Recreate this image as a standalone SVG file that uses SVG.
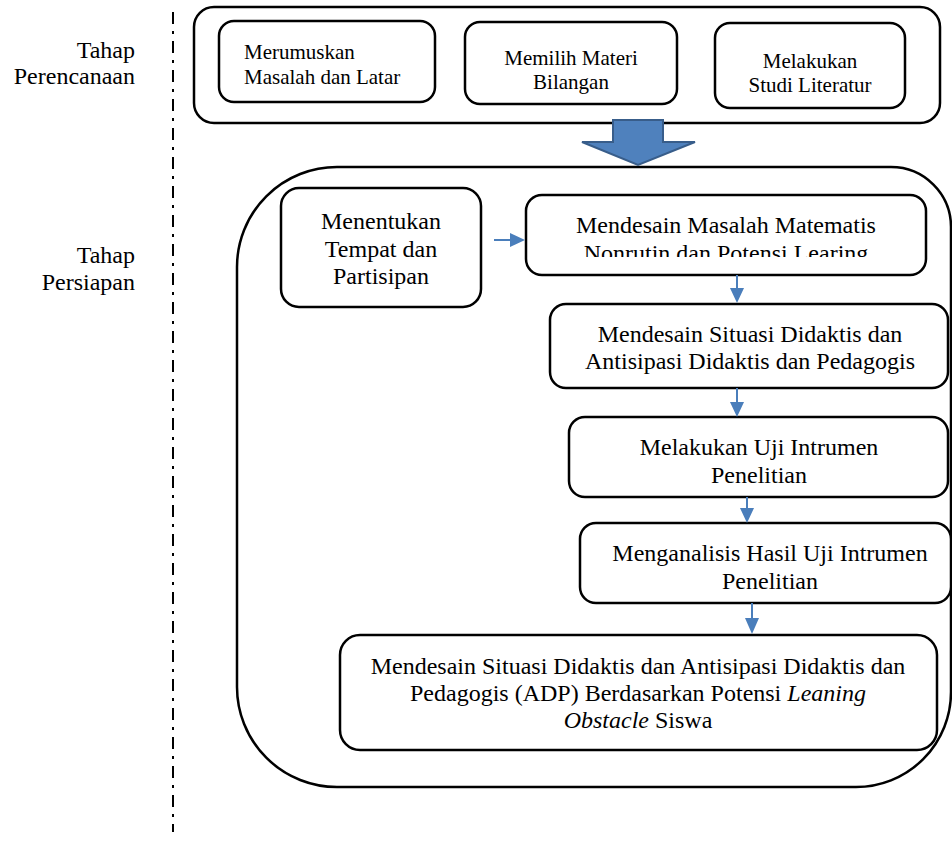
<svg xmlns="http://www.w3.org/2000/svg" width="952" height="845" viewBox="0 0 952 845" font-family="'Liberation Serif', Tinos, 'Times New Roman', 'DejaVu Serif', serif">
<style>
  text { font-family: "Liberation Serif", Tinos, "Times New Roman", "DejaVu Serif", serif; fill: #000; }
  .lbl { font-size: 24px; text-anchor: end; }
  .top { font-size: 21px; }
  .n { font-size: 24px; text-anchor: middle; }
  .box { fill: #fff; stroke: #000; stroke-width: 2.5; }
  .frame { fill: none; stroke: #000; stroke-width: 2.5; }
  .conn { stroke: #4a7ebb; stroke-width: 2; fill: none; }
  .head { fill: #4a7ebb; }
</style>
<defs>
  <clipPath id="clipLearing"><rect x="526" y="195" width="400" height="62"/></clipPath>
</defs>
<rect width="952" height="845" fill="#fff"/>

<g id="separator">
  <line x1="173" y1="12" x2="173" y2="832" stroke="#000" stroke-width="2" stroke-dasharray="12 7 3 7"/>
</g>

<g id="label-perencanaan">
  <text class="lbl" x="135" y="58">Tahap</text>
  <text class="lbl" x="135" y="84">Perencanaan</text>
</g>
<g id="label-persiapan">
  <text class="lbl" x="135" y="263">Tahap</text>
  <text class="lbl" x="135" y="290">Persiapan</text>
</g>

<g id="stage-perencanaan">
  <rect class="frame" x="194" y="7" width="746" height="116" rx="20"/>
</g>

<g id="merumuskan">
  <rect class="box" x="219" y="21" width="216" height="81" rx="15"/>
  <text class="top" x="244" y="59">Merumuskan</text>
  <text class="top" x="244" y="84">Masalah dan Latar</text>
</g>
<g id="memilih">
  <rect class="box" x="465" y="22" width="212" height="82" rx="15"/>
  <text class="top" x="571" y="65" text-anchor="middle">Memilih Materi</text>
  <text class="top" x="571" y="89" text-anchor="middle">Bilangan</text>
</g>
<g id="studi">
  <rect class="box" x="715" y="23" width="190" height="85" rx="15"/>
  <text class="top" x="810" y="68" text-anchor="middle">Melakukan</text>
  <text class="top" x="810" y="92" text-anchor="middle">Studi Literatur</text>
</g>

<g id="stage-persiapan">
  <path class="frame" d="M337,167 H891 A60,60 0 0 1 951,227 V692 A95,95 0 0 1 856,787 H337 A100,100 0 0 1 237,687 V267 A100,100 0 0 1 337,167 Z"/>
</g>

<g id="big-arrow">
  <polygon points="613,120 663,120 663,142 695,142 638,165 582,142 613,142" fill="#4f81bd" stroke="#385d8a" stroke-width="2" stroke-linejoin="miter"/>
</g>

<g id="menentukan">
  <rect class="box" x="281" y="188" width="200" height="119" rx="18"/>
  <text class="n" x="381" y="229">Menentukan</text>
  <text class="n" x="381" y="257">Tempat dan</text>
  <text class="n" x="381" y="284">Partisipan</text>
</g>

<g id="mendesain-masalah">
  <rect class="box" x="526" y="195" width="400" height="80" rx="16"/>
  <text class="n" x="726" y="233">Mendesain Masalah Matematis</text>
  <text class="n" x="726" y="261" clip-path="url(#clipLearing)">Nonrutin dan Potensi Learing</text>
</g>

<g id="mendesain-situasi">
  <rect class="box" x="550" y="304" width="398" height="84" rx="16"/>
  <text class="n" x="750" y="342">Mendesain Situasi Didaktis dan</text>
  <text class="n" x="750" y="369">Antisipasi Didaktis dan Pedagogis</text>
</g>

<g id="uji-instrumen">
  <rect class="box" x="569" y="417" width="379" height="80" rx="16"/>
  <text class="n" x="759" y="455">Melakukan Uji Intrumen</text>
  <text class="n" x="759" y="483">Penelitian</text>
</g>

<g id="analisis">
  <rect class="box" x="580" y="523" width="371" height="80" rx="16"/>
  <text class="n" x="770" y="561">Menganalisis Hasil Uji Intrumen</text>
  <text class="n" x="770" y="589">Penelitian</text>
</g>

<g id="mendesain-adp">
  <rect class="box" x="340" y="635" width="597" height="115" rx="20"/>
  <text class="n" x="638" y="674">Mendesain Situasi Didaktis dan Antisipasi Didaktis dan</text>
  <text class="n" x="638" y="701">Pedagogis (ADP) Berdasarkan Potensi <tspan font-style="italic">Leaning</tspan></text>
  <text class="n" x="638" y="728"><tspan font-style="italic">Obstacle</tspan> Siswa</text>
</g>

<g id="connectors">
  <line class="conn" x1="494" y1="240" x2="512" y2="240"/>
  <polygon class="head" points="510,233 525,240 510,247"/>
  <line class="conn" x1="737" y1="275" x2="737" y2="290"/>
  <polygon class="head" points="730,288 744,288 737,303"/>
  <line class="conn" x1="737" y1="388" x2="737" y2="404"/>
  <polygon class="head" points="730,402 744,402 737,417"/>
  <line class="conn" x1="747" y1="497" x2="747" y2="510"/>
  <polygon class="head" points="740,508 754,508 747,523"/>
  <line class="conn" x1="752" y1="603" x2="752" y2="620"/>
  <polygon class="head" points="745,618 759,618 752,634"/>
</g>
</svg>
